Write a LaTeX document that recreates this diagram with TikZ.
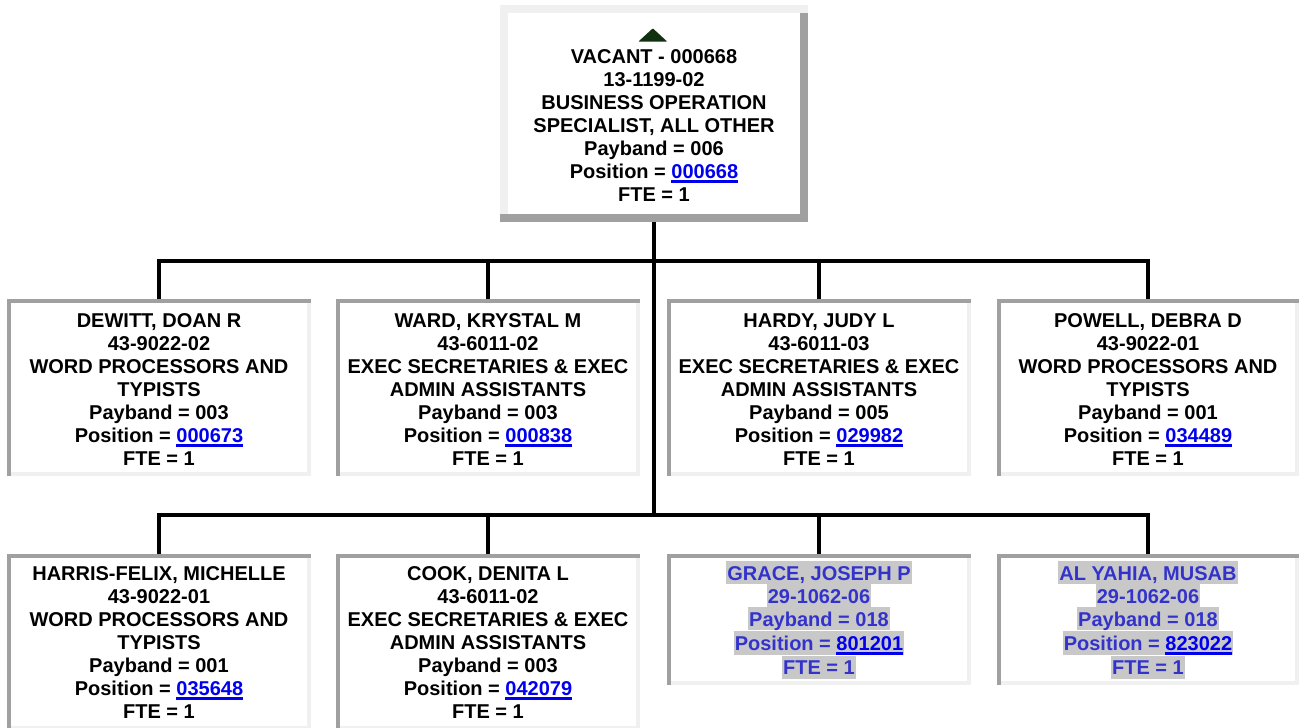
\documentclass[tikz,border=0pt]{standalone}
\usepackage{fontspec}
\setmainfont{Liberation Sans}
\usepackage{xcolor}
\definecolor{bdk}{HTML}{A0A0A0}
\definecolor{blt}{HTML}{F0F0F0}
\definecolor{hlg}{HTML}{C8C8C8}
\definecolor{tblue}{HTML}{3333CC}
\definecolor{lblue}{HTML}{0000EE}
\definecolor{trig}{HTML}{103010}
\newcommand\lnk[1]{{\color{lblue}\setbox0\hbox{#1}\rlap{\rule[-4.5pt]{\wd0}{2.4pt}}\box0}}
\newcommand\hlt[1]{{\setlength\fboxsep{0pt}\colorbox{hlg}{\rule[-4pt]{0pt}{23pt}\kern1pt#1\kern1pt}}}
\newcommand\orgbox[8]{%
  \node[#6, minimum width={#4-#2}, minimum height={#5-#3}] (#1) at ({(#2+#4)/2},{(#3+#5)/2})
  {\parbox[c][\dimexpr#5pt-#3pt\relax][t]{\dimexpr#4pt-#2pt\relax}{\centering\rule{0pt}{#7pt}#8}};}
\tikzset{
  boxbase/.style={inner sep=0pt, outer sep=0pt, fill=white,
    font=\fontsize{20}{23}\selectfont\bfseries},
  inset/.style={boxbase, path picture={
    \fill[blt] ([xshift=-4pt]path picture bounding box.north east) rectangle (path picture bounding box.south east);
    \fill[blt] ([yshift=4pt]path picture bounding box.south west) rectangle (path picture bounding box.south east);
    \fill[bdk] (path picture bounding box.north west) rectangle ([yshift=-4pt]path picture bounding box.north east);
    \fill[bdk] (path picture bounding box.north west) rectangle ([xshift=4pt]path picture bounding box.south west);}},
  outset/.style={boxbase, path picture={
    \fill[blt] (path picture bounding box.north west) rectangle ([xshift=8pt]path picture bounding box.south west);
    \fill[bdk] ([xshift=-8pt]path picture bounding box.north east) rectangle (path picture bounding box.south east);
    \fill[blt] (path picture bounding box.north west) rectangle ([yshift=-8pt]path picture bounding box.north east);
    \fill[bdk] ([yshift=8pt]path picture bounding box.south west) rectangle (path picture bounding box.south east);}},
  conn/.style={line width=4pt, line join=miter, draw=black},
}
\begin{document}
\begin{tikzpicture}[x=1pt,y=-1pt]
\fill[white] (0,0) rectangle (1299,728);
\useasboundingbox (0,0) rectangle (1299,728);

\orgbox{top}{500}{5}{808}{222}{outset}{58}{VACANT - 000668\\13-1199-02\\BUSINESS OPERATION\\SPECIALIST, ALL OTHER\\Payband = 006\\Position = \lnk{000668}\\FTE = 1}
\fill[trig, rounded corners=0.8pt] (638.3,41.7) -- (667.3,41.7) -- (652.8,28.3) -- cycle;

\orgbox{a1}{7}{299}{311}{476}{inset}{28}{DEWITT, DOAN R\\43-9022-02\\WORD PROCESSORS AND\\TYPISTS\\Payband = 003\\Position = \lnk{000673}\\FTE = 1}
\orgbox{a2}{336}{299}{640}{476}{inset}{28}{WARD, KRYSTAL M\\43-6011-02\\EXEC SECRETARIES \& EXEC\\ADMIN ASSISTANTS\\Payband = 003\\Position = \lnk{000838}\\FTE = 1}
\orgbox{a3}{667}{299}{971}{476}{inset}{28}{HARDY, JUDY L\\43-6011-03\\EXEC SECRETARIES \& EXEC\\ADMIN ASSISTANTS\\Payband = 005\\Position = \lnk{029982}\\FTE = 1}
\orgbox{a4}{997}{299}{1299}{476}{inset}{28}{POWELL, DEBRA D\\43-9022-01\\WORD PROCESSORS AND\\TYPISTS\\Payband = 001\\Position = \lnk{034489}\\FTE = 1}

\orgbox{b1}{7}{554}{311}{730}{inset}{26}{HARRIS-FELIX, MICHELLE\\43-9022-01\\WORD PROCESSORS AND\\TYPISTS\\Payband = 001\\Position = \lnk{035648}\\FTE = 1}
\orgbox{b2}{336}{554}{640}{730}{inset}{26}{COOK, DENITA L\\43-6011-02\\EXEC SECRETARIES \& EXEC\\ADMIN ASSISTANTS\\Payband = 003\\Position = \lnk{042079}\\FTE = 1}
\orgbox{b3}{667}{554}{971}{685}{inset}{26}{\color{tblue}\hlt{GRACE, JOSEPH P}\\\hlt{29-1062-06}\\\hlt{Payband = 018}\\\hlt{Position = \lnk{801201}}\\\hlt{FTE = 1}}
\orgbox{b4}{997}{554}{1299}{685}{inset}{26}{\color{tblue}\hlt{AL YAHIA, MUSAB}\\\hlt{29-1062-06}\\\hlt{Payband = 018}\\\hlt{Position = \lnk{823022}}\\\hlt{FTE = 1}}

\coordinate (j1) at (654,261);
\coordinate (j2) at (654,515);
\draw[conn] (top.south) -- (j2);
\draw[conn] (a1.north) |- (j1) -| (a4.north);
\draw[conn] (a2.north) -- (a2.north |- j1);
\draw[conn] (a3.north) -- (a3.north |- j1);
\draw[conn] (b1.north) |- (j2) -| (b4.north);
\draw[conn] (b2.north) -- (b2.north |- j2);
\draw[conn] (b3.north) -- (b3.north |- j2);
\end{tikzpicture}
\end{document}
